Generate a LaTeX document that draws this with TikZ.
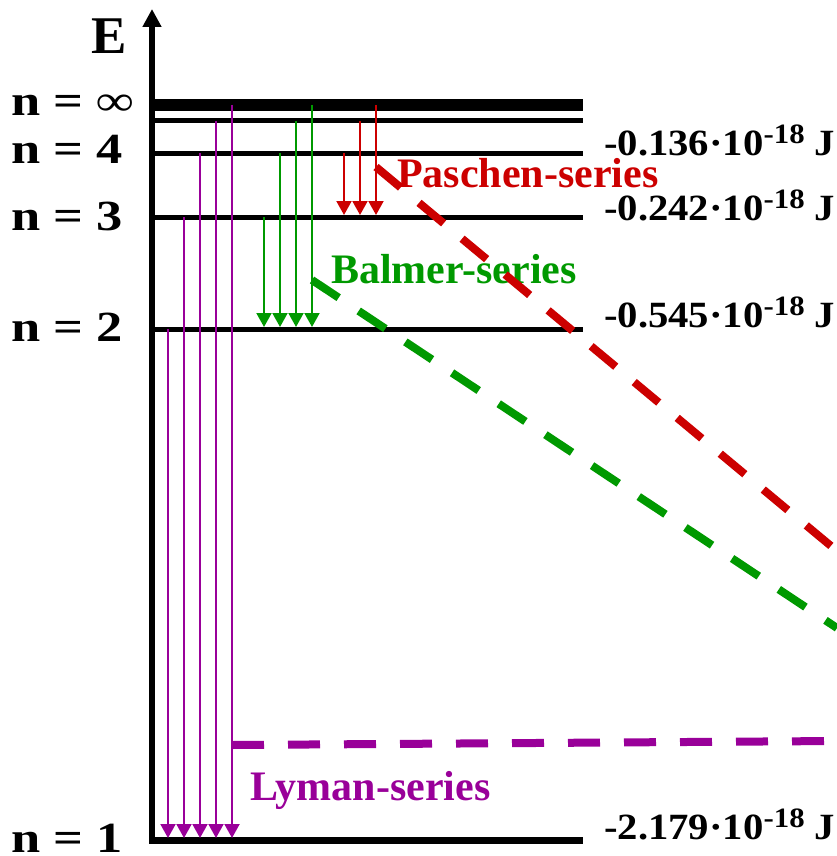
\documentclass[tikz,border=0pt]{standalone}
\usepackage{fontspec}
\setmainfont{Liberation Serif}[BoldFont={Liberation Serif Bold}]
\newfontfamily\boldfont{Liberation Serif Bold}
\newfontfamily\leftfont[FakeStretch=1.22]{Liberation Serif Bold}
\newfontfamily\rightfont[FakeStretch=1.1]{Liberation Serif Bold}
\usetikzlibrary{arrows.meta}
\definecolor{pred}{RGB}{204,0,0}
\definecolor{pgreen}{RGB}{0,153,0}
\definecolor{ppurple}{RGB}{153,0,153}
\newcommand{\evlabel}[1]{#1·10\raisebox{12pt}{\fontsize{28}{28}\selectfont -18} J}
\tikzset{
  level/.style={line width=5pt},
  trans/.style={line width=2pt,-{Triangle[width=15pt,length=14pt]}},
  series/.style={line width=8pt,dash pattern=on 32pt off 24pt},
  nlabel/.style={anchor=base west,inner sep=0pt,font=\leftfont\fontsize{43}{43}\selectfont},
  elabel/.style={anchor=base west,inner sep=0pt,font=\rightfont\fontsize{37}{37}\selectfont},
  slabel/.style={anchor=base west,inner sep=0pt,font=\boldfont\fontsize{42}{42}\selectfont},
}
\begin{document}
\begin{tikzpicture}[x=1pt,y=-1pt]
\useasboundingbox (0,0) rectangle (837,856);
% axis
\coordinate (axb) at (152,843.5);
\coordinate (axt) at (152,9);
\draw[line width=6pt,-{Triangle[width=18pt,length=18pt]}] (axb) -- (axt);
\node[anchor=base west,inner sep=0pt,font=\boldfont\fontsize{53}{53}\selectfont] (E) at (91,54) {E};
% levels
\coordinate (Linfa) at (152,105); \coordinate (Linfb) at (583,105);
\coordinate (L5a) at (152,121);   \coordinate (L5b) at (583,121);
\coordinate (L4a) at (152,153);   \coordinate (L4b) at (583,153);
\coordinate (L3a) at (152,217);   \coordinate (L3b) at (583,217);
\coordinate (L2a) at (152,329);   \coordinate (L2b) at (583,329);
\coordinate (L1a) at (149,840);   \coordinate (L1b) at (583,840);
\draw[line width=12pt] (Linfa) -- (Linfb);
\draw[level] (L5a) -- (L5b);
\draw[level] (L4a) -- (L4b);
\draw[level] (L3a) -- (L3b);
\draw[level] (L2a) -- (L2b);
\draw[line width=7pt] (L1a) -- (L1b);
% level labels
\node[nlabel] (n8) at (11,116) {n = ∞};
\node[nlabel] (n4) at (11,163) {n = 4};
\node[nlabel] (n3) at (11,230) {n = 3};
\node[nlabel] (n2) at (11,341) {n = 2};
\node[nlabel] (n1) at (11,852) {n = 1};
\node[elabel] (e4) at (604,155) {\evlabel{-0.136}};
\node[elabel] (e3) at (604,220) {\evlabel{-0.242}};
\node[elabel] (e2) at (604,327) {\evlabel{-0.545}};
\node[elabel] (e1) at (604,839) {\evlabel{-2.179}};
% Lyman
\foreach \x/\t [count=\i] in {168/329,184/217,200/153,216/121,232/105}{
  \coordinate (ly\i s) at (\x,\t);
  \coordinate (ly\i e) at (\x,838);
  \draw[trans,ppurple] (ly\i s) -- (ly\i e);
}
% Balmer
\foreach \x/\t [count=\i] in {264/217,280/153,296/121,312/105}{
  \coordinate (ba\i s) at (\x,\t);
  \coordinate (ba\i e) at (\x,327);
  \draw[trans,pgreen] (ba\i s) -- (ba\i e);
}
% Paschen
\foreach \x/\t [count=\i] in {344/153,360/121,376/105}{
  \coordinate (pa\i s) at (\x,\t);
  \coordinate (pa\i e) at (\x,215);
  \draw[trans,pred] (pa\i s) -- (pa\i e);
}
% series labels
\node[slabel,text=pred] (pasch) at (397,187) {Paschen-series};
\node[slabel,text=pgreen] (balm) at (331,283) {Balmer-series};
\node[slabel,text=ppurple] (lym) at (250,800) {Lyman-series};
% dashed series lines
\coordinate (rds) at (376,167); \coordinate (rde) at (837,551);
\coordinate (gds) at (312,280); \coordinate (gde) at (837,628);
\coordinate (pds) at (232,745); \coordinate (pde) at (837,741);
\draw[series,pred] (rds) -- (rde);
\draw[series,pgreen] (gds) -- (gde);
\draw[series,ppurple] (pds) -- (pde);
\end{tikzpicture}
\end{document}
